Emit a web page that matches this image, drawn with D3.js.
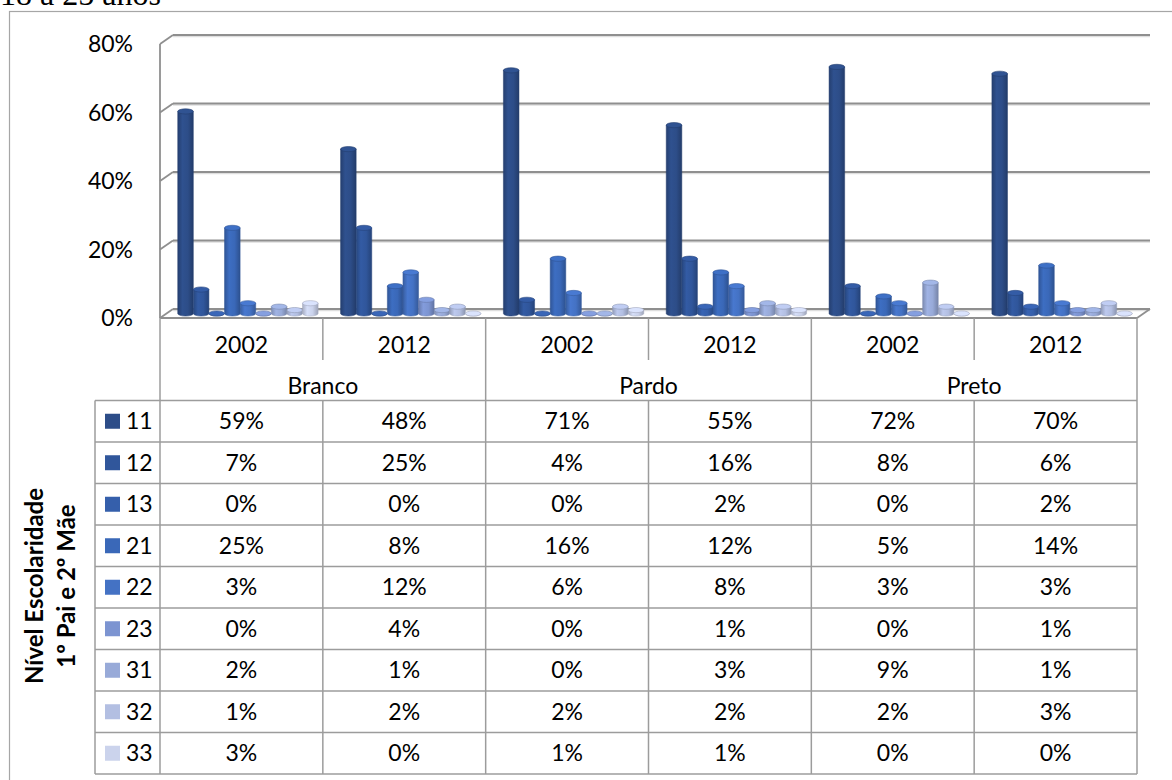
<!DOCTYPE html>
<html>
<head>
<meta charset="utf-8">
<script src="https://cdn.jsdelivr.net/npm/d3@7"></script>
<style>
  body { margin: 0; background: #fff; }
  svg { display: block; }
</style>
</head>
<body>
<svg id="chart" width="1172" height="780"></svg>
<script>
// ---- data ----
const races = ["Branco", "Pardo", "Preto"];
const years = ["2002", "2012"];
const categories = ["Branco|2002", "Branco|2012", "Pardo|2002", "Pardo|2012", "Preto|2002", "Preto|2012"];
const seriesNames = ["11", "12", "13", "21", "22", "23", "31", "32", "33"];
const v11 = [59, 48, 71, 55, 72, 70];
const v12 = [7, 25, 4, 16, 8, 6];
const v13 = [0, 0, 0, 2, 0, 2];
const v21 = [25, 8, 16, 12, 5, 14];
const v22 = [3, 12, 6, 8, 3, 3];
const v23 = [0, 4, 0, 1, 0, 1];
const v31 = [2, 1, 0, 3, 9, 1];
const v32 = [1, 2, 2, 2, 2, 3];
const v33 = [3, 0, 1, 1, 0, 0];
const seriesValues = [v11, v12, v13, v21, v22, v23, v31, v32, v33];
const seriesColors = ["#2d4d88", "#30569b", "#355fab", "#3a68b8", "#4472c4", "#7c94d1", "#98aad8", "#b3bfe2", "#cbd3ec"];
const yTicks = [0, 20, 40, 60, 80];
const title = "18 a 25 anos";
const rowTitle = ["Nível Escolaridade", "1º Pai e 2º Mãe"];

// ---- layout ----
const svg = d3.select("#chart");
const FONT = "Lato, Carlito, Calibri, 'Liberation Sans', sans-serif";
const FS = 23;                       // table / axis text size
const X0 = 160, X1 = 1137;          // front plane, left/right
const Y0 = 318;                      // front floor edge
const DX = 13, DY = -9;              // wall depth offset
const UNIT = 3.425;                  // pixels per percentage point
const LEG_X = 95;                    // legend column left
const ROW_TOP = 400.5, ROW_H = 41.5;
const TABLE_BOTTOM = ROW_TOP + ROW_H * seriesNames.length;
const LINE = "#9c9c9c";

const y = d3.scaleLinear().domain([0, 80]).range([Y0, Y0 - 80 * UNIT]);
const x = d3.scaleBand().domain(categories).range([X0, X1]).padding(0);
const sx = d3.scaleBand().domain(seriesNames).range([0, x.bandwidth()]).paddingInner(0).paddingOuter(0.72);
const raceX = d3.scaleBand().domain(races).range([X0, X1]).padding(0);

svg.append("rect").attr("width", 1172).attr("height", 780).attr("fill", "#fff");

// page title (partly above the frame)
svg.append("text").attr("x", 0).attr("y", 5)
  .attr("font-family", "'Liberation Serif', 'Times New Roman', serif")
  .attr("font-size", 32).attr("fill", "#000").text(title);

// outer frame
svg.append("rect").attr("x", 9.5).attr("y", 11.5).attr("width", 1300).attr("height", 900)
  .attr("fill", "none").attr("stroke", "#a6a6a6").attr("stroke-width", 1.2);

// ---- walls & gridlines ----
const walls = svg.append("g");
yTicks.forEach(t => {
  const yf = y(t), yb = y(t) + DY;
  // soft shadow under each back gridline
  walls.append("line").attr("x1", X0 + DX).attr("x2", X1 + DX).attr("y1", yb + 1.6).attr("y2", yb + 1.6)
    .attr("stroke", "#dedede").attr("stroke-width", 1.5);
  walls.append("line").attr("x1", X0 + DX).attr("x2", X1 + DX).attr("y1", yb).attr("y2", yb)
    .attr("stroke", "#8f8f8f").attr("stroke-width", 1.8);
  walls.append("line").attr("x1", X0).attr("x2", X0 + DX).attr("y1", yf).attr("y2", yb)
    .attr("stroke", "#8f8f8f").attr("stroke-width", 1.8);
});
// front vertical axis line
walls.append("line").attr("x1", X0).attr("x2", X0).attr("y1", y(80)).attr("y2", Y0)
  .attr("stroke", "#8f8f8f").attr("stroke-width", 1.8);
// floor right edge
walls.append("line").attr("x1", X1).attr("x2", X1 + DX).attr("y1", Y0).attr("y2", Y0 + DY)
  .attr("stroke", "#8f8f8f").attr("stroke-width", 1.8);

// y-axis labels
svg.append("g").selectAll("text").data(yTicks).join("text")
  .attr("x", 133).attr("y", d => y(d)).attr("dy", "0.35em")
  .attr("text-anchor", "end").attr("font-family", FONT).attr("font-size", FS).attr("fill", "#000")
  .text(d => d + "%");

// ---- cylinder gradients ----
const defs = svg.append("defs");
seriesColors.forEach((c, i) => {
  const base = d3.color(c);
  const g = defs.append("linearGradient").attr("id", "cyl" + i).attr("x1", 0).attr("x2", 1).attr("y1", 0).attr("y2", 0);
  g.append("stop").attr("offset", 0).attr("stop-color", base.darker(0.55));
  g.append("stop").attr("offset", 0.3).attr("stop-color", base.brighter(0.15));
  g.append("stop").attr("offset", 0.65).attr("stop-color", base);
  g.append("stop").attr("offset", 1).attr("stop-color", base.darker(0.7));
});

// ---- cylinders ----
const bars = svg.append("g");
const ry = 2.6;
categories.forEach((cat, ci) => {
  seriesNames.forEach((s, si) => {
    const v = seriesValues[si][ci];
    const w = sx.bandwidth();
    const left = x(cat) + sx(s) + DX / 2;
    const rx = w / 2;
    const yb = y(0) + DY / 2;
    const yt = y(v) + DY / 2;
    const col = d3.color(seriesColors[si]);
    bars.append("path")
      .attr("d", `M${left},${yt} L${left},${yb} A${rx},${ry} 0 0 0 ${left + w},${yb} L${left + w},${yt} Z`)
      .attr("fill", `url(#cyl${si})`).attr("stroke", col.darker(0.6)).attr("stroke-width", 0.5);
    bars.append("ellipse")
      .attr("cx", left + rx).attr("cy", yt).attr("rx", rx).attr("ry", ry)
      .attr("fill", col.brighter(0.2)).attr("stroke", col.darker(0.6)).attr("stroke-width", 0.6);
  });
});

// ---- data table ----
const table = svg.append("g").attr("stroke", LINE).attr("stroke-width", 1.5);
// header top (floor front edge)
table.append("line").attr("x1", X0).attr("x2", X1).attr("y1", Y0).attr("y2", Y0).attr("stroke", "#8f8f8f").attr("stroke-width", 1.8);
// outer verticals and race separators
[X0, raceX("Pardo"), raceX("Preto"), X1].forEach(xx => {
  table.append("line").attr("x1", xx).attr("x2", xx).attr("y1", Y0).attr("y2", TABLE_BOTTOM);
});
// year separators inside each race
categories.forEach((cat, i) => {
  if (i % 2 === 1) {
    const xx = x(cat);
    table.append("line").attr("x1", xx).attr("x2", xx).attr("y1", Y0).attr("y2", 360);
    table.append("line").attr("x1", xx).attr("x2", xx).attr("y1", ROW_TOP).attr("y2", TABLE_BOTTOM);
  }
});
// row lines
d3.range(seriesNames.length + 1).forEach(i => {
  const yy = ROW_TOP + i * ROW_H;
  table.append("line").attr("x1", LEG_X).attr("x2", X1).attr("y1", yy).attr("y2", yy);
});
table.append("line").attr("x1", LEG_X).attr("x2", LEG_X).attr("y1", ROW_TOP).attr("y2", TABLE_BOTTOM);

const txt = svg.append("g").attr("font-family", FONT).attr("font-size", FS).attr("fill", "#000");
// year labels
categories.forEach(cat => {
  txt.append("text").attr("x", x(cat) + x.bandwidth() / 2).attr("y", 345).attr("dy", "0.35em")
    .attr("text-anchor", "middle").text(cat.split("|")[1]);
});
// race labels
races.forEach(r => {
  txt.append("text").attr("x", raceX(r) + raceX.bandwidth() / 2).attr("y", 386).attr("dy", "0.35em")
    .attr("text-anchor", "middle").text(r);
});
// rows: legend key + values
seriesNames.forEach((s, si) => {
  const cy = ROW_TOP + (si + 0.5) * ROW_H;
  svg.append("rect").attr("x", 105).attr("y", cy - 7.5).attr("width", 15).attr("height", 15)
    .attr("fill", seriesColors[si]);
  txt.append("text").attr("x", 126).attr("y", cy).attr("dy", "0.35em").text(s);
  categories.forEach((cat, ci) => {
    txt.append("text").attr("x", x(cat) + x.bandwidth() / 2).attr("y", cy).attr("dy", "0.35em")
      .attr("text-anchor", "middle").text(seriesValues[si][ci] + "%");
  });
});

// rotated row title
const rt = svg.append("text").attr("transform", "translate(0,586) rotate(-90)")
  .attr("font-family", FONT).attr("font-size", 24).attr("font-weight", "bold").attr("text-anchor", "middle");
rt.append("tspan").attr("x", 0).attr("y", 43).text(rowTitle[0]);
rt.append("tspan").attr("x", 0).attr("y", 75).text(rowTitle[1]);
</script>
</body>
</html>
